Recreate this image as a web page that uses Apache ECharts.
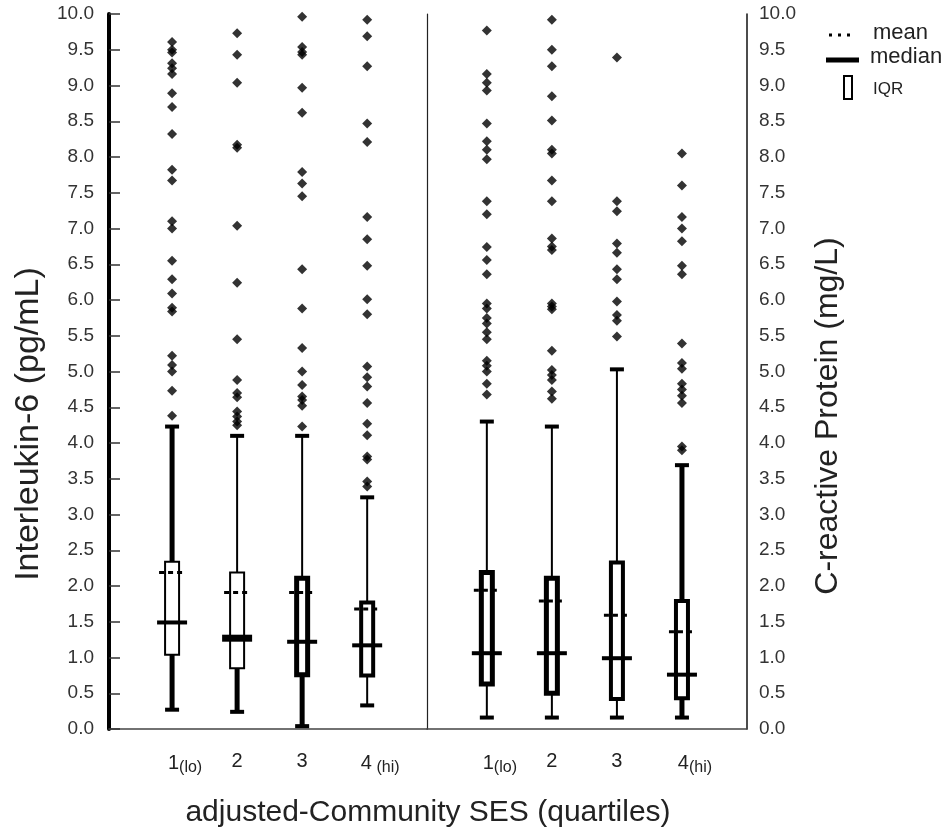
<!DOCTYPE html>
<html><head><meta charset="utf-8">
<script src="https://cdn.jsdelivr.net/npm/echarts@6/dist/echarts.min.js"></script>
<style>html,body{margin:0;padding:0;background:#fff}#c{width:949px;height:835px}</style>
</head><body><div id="c"></div>
<script>
// ---- data ----
const categories = ['1', '2', '3', '4'];
const subLeft = ['(lo)', '', '', ' (hi)'];
const subRight = ['(lo)', '', '', '(hi)'];
const yTicks = [0, 0.5, 1, 1.5, 2, 2.5, 3, 3.5, 4, 4.5, 5, 5.5, 6, 6.5, 7, 7.5, 8, 8.5, 9, 9.5, 10];

// Interleukin-6 (pg/mL)
const il6Low    = [0.27, 0.24, 0.04, 0.33];
const il6Q1     = [1.04, 0.85, 0.76, 0.75];
const il6Median = [1.49, 1.27, 1.22, 1.17];
const il6Q3     = [2.34, 2.19, 2.11, 1.77];
const il6High   = [4.23, 4.10, 4.10, 3.24];
const il6Mean   = [2.19, 1.91, 1.91, 1.68];
const il6Outliers = [
  [9.61, 9.50, 9.46, 9.31, 9.24, 9.16, 8.89, 8.70, 8.32, 7.82, 7.67, 7.10, 7.00, 6.55, 6.29, 6.09, 5.89, 5.84, 5.22, 5.09, 5.00, 4.73, 4.38],
  [9.73, 9.43, 9.04, 8.17, 8.13, 7.04, 6.24, 5.45, 4.88, 4.70, 4.64, 4.44, 4.37, 4.30, 4.25],
  [9.96, 9.54, 9.47, 9.43, 8.97, 8.62, 7.79, 7.63, 7.45, 6.43, 5.88, 5.33, 5.00, 4.81, 4.65, 4.60, 4.52, 4.23],
  [9.92, 9.69, 9.27, 8.47, 8.21, 7.16, 6.85, 6.48, 6.01, 5.80, 5.07, 4.92, 4.79, 4.56, 4.27, 4.11, 3.81, 3.77, 3.46, 3.39]
];

// C-reactive Protein (mg/L)
const crpLow    = [0.16, 0.16, 0.16, 0.16];
const crpQ1     = [0.63, 0.50, 0.42, 0.43];
const crpMedian = [1.06, 1.06, 0.99, 0.76];
const crpQ3     = [2.19, 2.11, 2.33, 1.79];
const crpHigh   = [4.30, 4.23, 5.03, 3.69];
const crpMean   = [1.94, 1.79, 1.59, 1.36];
const crpOutliers = [
  [9.77, 9.16, 9.04, 8.93, 8.47, 8.22, 8.10, 7.97, 7.38, 7.20, 6.74, 6.56, 6.36, 5.95, 5.88, 5.75, 5.67, 5.55, 5.45, 5.15, 5.08, 5.00, 4.83, 4.68],
  [9.92, 9.50, 9.27, 8.85, 8.51, 8.10, 8.05, 7.67, 7.38, 6.86, 6.75, 6.70, 5.95, 5.91, 5.87, 5.29, 5.02, 4.95, 4.88, 4.72, 4.62],
  [9.39, 7.38, 7.24, 6.79, 6.66, 6.43, 6.29, 5.98, 5.79, 5.71, 5.49],
  [8.05, 7.60, 7.16, 7.00, 6.82, 6.48, 6.36, 5.39, 5.12, 5.04, 4.83, 4.75, 4.66, 4.56, 3.95, 3.90]
];

// ---- styles (line widths per box) ----
const il6Style = { box: [2, 2, 5, 4], up: [5, 2, 2, 2], lo: [5, 5, 5, 2], med: [4, 7, 4, 4] };
const crpStyle = { box: [5, 5, 4, 4], up: [2, 2, 2, 5], lo: [2, 2, 2, 5], med: [4, 4, 4, 4] };

const FONT = 'Liberation Sans, Arial, sans-serif';
const chart = echarts.init(document.getElementById('c'), null, { renderer: 'canvas' });

function boxSeries(xi, yi, low, q1, med, q3, high, mean, st) {
  const data = categories.map((c, i) => [i + 1, low[i], q1[i], med[i], q3[i], high[i], mean[i]]);
  return {
    type: 'custom', xAxisIndex: xi, yAxisIndex: yi, data: data,
    encode: { x: 0, y: [1, 2, 3, 4, 5, 6] }, z: 3,
    renderItem: function (params, api) {
      const i = params.dataIndex;
      const x = api.value(0);
      const pL = api.coord([x, api.value(1)]);
      const pQ1 = api.coord([x, api.value(2)]);
      const pM = api.coord([x, api.value(3)]);
      const pQ3 = api.coord([x, api.value(4)]);
      const pH = api.coord([x, api.value(5)]);
      const pMe = api.coord([x, api.value(6)]);
      const cx = pL[0];
      const bw = st.box[i];
      const outerW = 16;
      const ln = (x1, y1, x2, y2, w, dash) => ({
        type: 'line', shape: { x1, y1, x2, y2 },
        style: { stroke: '#000', lineWidth: w, lineDash: dash || null, lineCap: 'butt' }
      });
      return {
        type: 'group', children: [
          ln(cx, pH[1], cx, pQ3[1], st.up[i]),
          ln(cx - 7, pH[1], cx + 7, pH[1], 4),
          ln(cx, pL[1], cx, pQ1[1], st.lo[i]),
          ln(cx - 7, pL[1], cx + 7, pL[1], 4),
          {
            type: 'rect',
            shape: { x: cx - outerW / 2 + bw / 2, y: pQ3[1], width: outerW - bw, height: pQ1[1] - pQ3[1] },
            style: { fill: '#fff', stroke: '#000', lineWidth: bw }
          },
          ln(cx - 15, pM[1], cx + 15, pM[1], st.med[i]),
          ln(cx - 13, pMe[1], cx + 13, pMe[1], 3, [5, 4])
        ]
      };
    }
  };
}

function outlierSeries(xi, yi, outs) {
  const pts = [];
  outs.forEach((arr, i) => arr.forEach(v => pts.push([i + 1, v])));
  return {
    type: 'scatter', xAxisIndex: xi, yAxisIndex: yi, data: pts,
    symbol: 'diamond', symbolSize: [10, 10], itemStyle: { color: '#000' }, z: 4
  };
}

function xAxisFor(gi, min, max, subs) {
  return {
    type: 'value', gridIndex: gi, min: min, max: max,
    axisLine: { show: true, lineStyle: { color: '#444', width: 1.5 } },
    axisTick: { show: false }, splitLine: { show: false },
    axisLabel: {
      customValues: [1, 2, 3, 4], margin: 22,
      formatter: function (v) {
        const i = Math.round(v) - 1;
        if (i < 0 || i > 3) return '';
        return subs[i] ? '{p|}{n|' + categories[i] + '}{s|' + subs[i] + '}' : '{n|' + categories[i] + '}';
      },
      rich: {
        n: { fontSize: 20, color: '#222', fontFamily: FONT },
        s: { fontSize: 16, color: '#222', fontFamily: FONT, padding: [9, 0, 0, 0] },
        p: { width: 26 }
      }
    }
  };
}

const yLabel = (v) => v.toFixed(1);

chart.setOption({
  animation: false,
  backgroundColor: '#fff',
  grid: [
    { left: 109, right: 949 - 427, top: 14, bottom: 835 - 729 },
    { left: 427, right: 949 - 747, top: 14, bottom: 835 - 729 }
  ],
  xAxis: [
    xAxisFor(0, 0.03, 4.92, subLeft),
    xAxisFor(1, 0.08, 5.0, subRight)
  ],
  yAxis: [
    {
      type: 'value', gridIndex: 0, min: 0, max: 10, interval: 0.5,
      axisLine: { show: true, lineStyle: { color: '#000', width: 4 } },
      axisTick: { show: true, inside: true, length: 11, lineStyle: { color: '#333', width: 1.5 } },
      splitLine: { show: false },
      axisLabel: { customValues: yTicks, formatter: yLabel, fontSize: 19, color: '#333', fontFamily: FONT, margin: 15 }
    },
    {
      type: 'value', gridIndex: 1, position: 'right', min: 0, max: 10, interval: 0.5,
      axisLine: { show: true, lineStyle: { color: '#111', width: 1.5 } },
      axisTick: { show: false }, splitLine: { show: false },
      axisLabel: { customValues: yTicks, formatter: yLabel, fontSize: 19, color: '#333', fontFamily: FONT, margin: 12 }
    },
    {
      type: 'value', gridIndex: 1, position: 'left', min: 0, max: 10, interval: 0.5,
      axisLine: { show: true, lineStyle: { color: '#222', width: 1.2 } },
      axisTick: { show: false }, splitLine: { show: false }, axisLabel: { show: false }
    }
  ],
  series: [
    boxSeries(0, 0, il6Low, il6Q1, il6Median, il6Q3, il6High, il6Mean, il6Style),
    outlierSeries(0, 0, il6Outliers),
    boxSeries(1, 1, crpLow, crpQ1, crpMedian, crpQ3, crpHigh, crpMean, crpStyle),
    outlierSeries(1, 1, crpOutliers)
  ],
  graphic: [
    { type: 'text', x: 29, y: 424, rotation: Math.PI / 2, style: { text: 'Interleukin-6 (pg/mL)', fontSize: 34, fontFamily: FONT, fill: '#222', align: 'center', verticalAlign: 'middle' } },
    { type: 'text', x: 828, y: 416, rotation: Math.PI / 2, style: { text: 'C-reactive Protein (mg/L)', fontSize: 32, fontFamily: FONT, fill: '#222', align: 'center', verticalAlign: 'middle' } },
    { type: 'text', x: 428, y: 813, style: { text: 'adjusted-Community SES (quartiles)', fontSize: 30, fontFamily: FONT, fill: '#222', align: 'center', verticalAlign: 'middle' } },
    { type: 'line', shape: { x1: 829, y1: 35, x2: 852, y2: 35 }, style: { stroke: '#000', lineWidth: 3, lineDash: [3, 6] } },
    { type: 'text', x: 873, y: 33, style: { text: 'mean', fontSize: 22, fontFamily: FONT, fill: '#222', verticalAlign: 'middle' } },
    { type: 'line', shape: { x1: 826, y1: 60, x2: 859, y2: 60 }, style: { stroke: '#000', lineWidth: 5 } },
    { type: 'text', x: 870, y: 57, style: { text: 'median', fontSize: 22, fontFamily: FONT, fill: '#222', verticalAlign: 'middle' } },
    { type: 'rect', shape: { x: 844, y: 76, width: 8, height: 23 }, style: { fill: '#fff', stroke: '#000', lineWidth: 2 } },
    { type: 'text', x: 873, y: 89, style: { text: 'IQR', fontSize: 17, fontFamily: FONT, fill: '#222', verticalAlign: 'middle' } }
  ]
});
</script>
</body></html>
